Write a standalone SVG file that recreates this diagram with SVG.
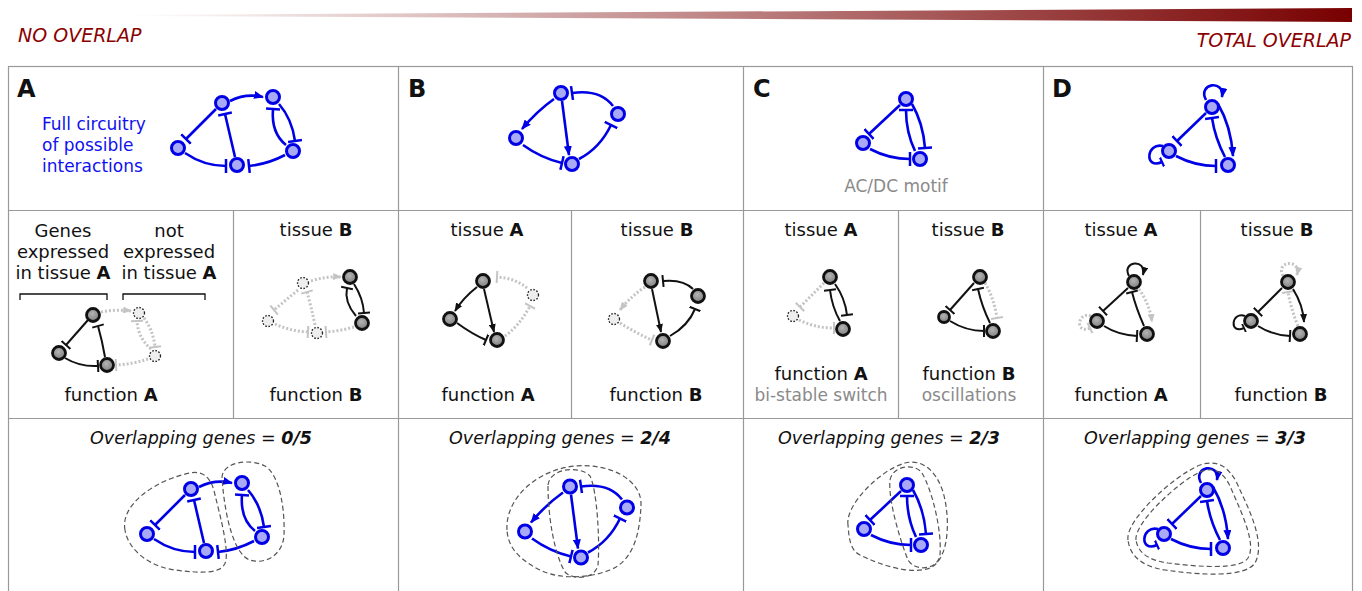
<svg xmlns="http://www.w3.org/2000/svg" width="1362" height="591" viewBox="0 0 1362 591">
<style>
text{font-family:"DejaVu Sans","Liberation Sans",sans-serif;}
.t{font-size:18px;fill:#111;text-anchor:middle;}
.sub{font-size:17px;fill:#8a8a8a;text-anchor:middle;}
.ov{font-size:17.5px;font-style:italic;fill:#111;text-anchor:middle;}
.lbl{font-size:24px;font-weight:bold;fill:#111;}
.grid{stroke:#999;stroke-width:1.2;fill:none;}
.eb{fill:none;stroke:#0000e6;stroke-width:2.6;}
.ek{fill:none;stroke:#111;stroke-width:2;}
.eg{fill:none;stroke:#c4c4c4;stroke-width:3;stroke-dasharray:2,2;}
.nb{fill:#a9aaf6;stroke:#0000e6;stroke-width:3;}
.ng{fill:url(#gg);stroke:#111;stroke-width:2.8;}
.nd{fill:#eeeeee;stroke:#222;stroke-width:1.3;stroke-dasharray:1.6,1.6;}
.blob{fill:none;stroke:#555;stroke-width:1.2;stroke-dasharray:5,3;}
</style>
<defs>
<linearGradient id="hdr" x1="130" y1="0" x2="1352" y2="0" gradientUnits="userSpaceOnUse"><stop offset="0" stop-color="#ffffff"/><stop offset="1" stop-color="#780000"/></linearGradient>
<radialGradient id="gg" cx="0.45" cy="0.4" r="0.6"><stop offset="0" stop-color="#b4b4b4"/><stop offset="1" stop-color="#7e7e7e"/></radialGradient>
<marker id="aB" markerUnits="userSpaceOnUse" viewBox="0 0 10 8" markerWidth="10" markerHeight="8" refX="9" refY="4" orient="auto"><path d="M0,0 L10,4 L0,8 z" fill="#0000e6"/></marker>
<marker id="tB" markerUnits="userSpaceOnUse" viewBox="0 0 4 14" markerWidth="4" markerHeight="14" refX="2" refY="7" orient="auto"><path d="M2,0 V14" stroke="#0000e6" stroke-width="2.5"/></marker>
<marker id="tBs" markerUnits="userSpaceOnUse" viewBox="0 0 4 10" markerWidth="4" markerHeight="10" refX="2" refY="5" orient="auto"><path d="M2,0 V10" stroke="#0000e6" stroke-width="2.2"/></marker>
<marker id="aK" markerUnits="userSpaceOnUse" viewBox="0 0 10 8" markerWidth="9" markerHeight="7" refX="9" refY="4" orient="auto"><path d="M0,0 L10,4 L0,8 z" fill="#111"/></marker>
<marker id="tK" markerUnits="userSpaceOnUse" viewBox="0 0 4 12" markerWidth="4" markerHeight="12" refX="2" refY="6" orient="auto"><path d="M2,0 V12" stroke="#111" stroke-width="2"/></marker>
<marker id="tKs" markerUnits="userSpaceOnUse" viewBox="0 0 4 9" markerWidth="4" markerHeight="9" refX="2" refY="4.5" orient="auto"><path d="M2,0 V9" stroke="#111" stroke-width="1.8"/></marker>
<marker id="aG" markerUnits="userSpaceOnUse" viewBox="0 0 10 8" markerWidth="9" markerHeight="7" refX="9" refY="4" orient="auto"><path d="M0,0 L10,4 L0,8 z" fill="#c4c4c4"/></marker>
<marker id="tG" markerUnits="userSpaceOnUse" viewBox="0 0 4 12" markerWidth="4" markerHeight="12" refX="2" refY="6" orient="auto"><path d="M2,0 V12" stroke="#c4c4c4" stroke-width="2"/></marker>
</defs>

<g id="header">
<polygon points="130,15 1352,8 1352,22 130,16" fill="url(#hdr)"/>
<text x="18" y="42" style="font-size:19px;font-style:italic;fill:#8b0000;">NO OVERLAP</text>
<text x="1351" y="47" style="font-size:19px;font-style:italic;fill:#8b0000;text-anchor:end;">TOTAL OVERLAP</text>
</g>

<g id="table">
<rect class="grid" x="8.5" y="66.5" width="1344" height="540"/>
<line class="grid" x1="8" y1="210.5" x2="1353" y2="210.5"/>
<line class="grid" x1="8" y1="418.5" x2="1353" y2="418.5"/>
<line class="grid" x1="398.5" y1="66" x2="398.5" y2="591"/>
<line class="grid" x1="743.5" y1="66" x2="743.5" y2="591"/>
<line class="grid" x1="1043.5" y1="66" x2="1043.5" y2="591"/>
<line class="grid" x1="233.5" y1="210" x2="233.5" y2="418"/>
<line class="grid" x1="571.5" y1="210" x2="571.5" y2="418"/>
<line class="grid" x1="898.5" y1="210" x2="898.5" y2="418"/>
<line class="grid" x1="1200.5" y1="210" x2="1200.5" y2="418"/>
</g>

<g id="labels">
<text class="lbl" x="17" y="97">A</text>
<text class="lbl" x="408" y="97">B</text>
<text class="lbl" x="753" y="97">C</text>
<text class="lbl" x="1052" y="97">D</text>
<text x="42" y="130" style="font-size:17px;fill:#1010f0;">Full circuitry</text>
<text x="42" y="151" style="font-size:17px;fill:#1010f0;">of possible</text>
<text x="42" y="172" style="font-size:17px;fill:#1010f0;">interactions</text>
<text class="sub" x="896" y="192">AC/DC motif</text>

<text class="t" x="63" y="237">Genes</text>
<text class="t" x="63" y="258">expressed</text>
<text class="t" x="63" y="279">in tissue <tspan font-weight="bold">A</tspan></text>
<text class="t" x="169" y="237">not</text>
<text class="t" x="169" y="258">expressed</text>
<text class="t" x="169" y="279">in tissue <tspan font-weight="bold">A</tspan></text>
<path d="M20,300 V294 H107 V300 M123,300 V294 H205 V300" fill="none" stroke="#111" stroke-width="1.3"/>
<text class="t" x="111" y="401">function <tspan font-weight="bold">A</tspan></text>
<text class="t" x="316" y="236">tissue <tspan font-weight="bold">B</tspan></text>
<text class="t" x="316" y="401">function <tspan font-weight="bold">B</tspan></text>

<text class="t" x="487" y="236">tissue <tspan font-weight="bold">A</tspan></text>
<text class="t" x="488" y="401">function <tspan font-weight="bold">A</tspan></text>
<text class="t" x="657" y="236">tissue <tspan font-weight="bold">B</tspan></text>
<text class="t" x="656" y="401">function <tspan font-weight="bold">B</tspan></text>

<text class="t" x="821" y="236">tissue <tspan font-weight="bold">A</tspan></text>
<text class="t" x="821" y="380">function <tspan font-weight="bold">A</tspan></text>
<text class="sub" x="821" y="401">bi-stable switch</text>
<text class="t" x="968" y="236">tissue <tspan font-weight="bold">B</tspan></text>
<text class="t" x="969" y="380">function <tspan font-weight="bold">B</tspan></text>
<text class="sub" x="969" y="401">oscillations</text>

<text class="t" x="1121" y="236">tissue <tspan font-weight="bold">A</tspan></text>
<text class="t" x="1121" y="401">function <tspan font-weight="bold">A</tspan></text>
<text class="t" x="1277" y="236">tissue <tspan font-weight="bold">B</tspan></text>
<text class="t" x="1281" y="401">function <tspan font-weight="bold">B</tspan></text>

<text class="ov" x="201" y="444">Overlapping genes = <tspan font-weight="bold">0/5</tspan></text>
<text class="ov" x="560" y="444">Overlapping genes = <tspan font-weight="bold">2/4</tspan></text>
<text class="ov" x="889" y="444">Overlapping genes = <tspan font-weight="bold">2/3</tspan></text>
<text class="ov" x="1195" y="444">Overlapping genes = <tspan font-weight="bold">3/3</tspan></text>
</g>

<!-- connectors -->
<g id="connectors">
 <g id="cA">
  <path class="eb" d="M230,101 Q246,93 263,97" marker-end="url(#aB)"/>
  <path class="eb" d="M216,109 L186,139" marker-end="url(#tB)"/>
  <path class="eb" d="M235,157 L225,114" marker-end="url(#tB)"/>
  <path class="eb" d="M185,153 Q204,166 226,166" marker-end="url(#tB)"/>
  <path class="eb" d="M285,155 Q268,164 249,166" marker-end="url(#tB)"/>
  <path class="eb" d="M286,145 Q271,133 273,109" marker-end="url(#tB)"/>
  <path class="eb" d="M279,104 Q292,119 295,141" marker-end="url(#tB)"/>
 </g>
 <g id="cB">
  <path class="eb" d="M554,99 Q537,111 522,129" marker-end="url(#aB)"/>
  <path class="eb" d="M562,101 L569,155" marker-end="url(#aB)"/>
  <path class="eb" d="M523,145 Q541,158 562,163" marker-end="url(#tB)"/>
  <path class="eb" d="M613,106 Q600,89 572,93" marker-end="url(#tB)"/>
  <path class="eb" d="M579,159 Q600,148 611,125" marker-end="url(#tB)"/>
 </g>
 <g id="cC">
  <path class="eb" d="M900,105 L869,134" marker-end="url(#tB)"/>
  <path class="eb" d="M870,149 Q889,159 910,159" marker-end="url(#tB)"/>
  <path class="eb" d="M915,151 Q906,132 906,110" marker-end="url(#tB)"/>
  <path class="eb" d="M912,104 Q923,123 925,148" marker-end="url(#tB)"/>
 </g>
 <g id="cD">
  <path class="eb" d="M1206,100 C1197,83 1225,79 1222,97" marker-end="url(#aB)"/>
  <path class="eb" d="M1163,146 C1146,142 1144,170 1162,162" marker-end="url(#tBs)"/>
  <path class="eb" d="M1206,113 L1177,141" marker-end="url(#tB)"/>
  <path class="eb" d="M1176,156 Q1195,166 1216,166" marker-end="url(#tB)"/>
  <path class="eb" d="M1225,157 Q1215,138 1212,118" marker-end="url(#tB)"/>
  <path class="eb" d="M1218,104 Q1231,126 1233,156" marker-end="url(#aB)"/>
 </g>
 <g id="cA1">
  <path class="eg" d="M101,312 Q116,309 131,311" marker-end="url(#aG)"/>
  <path class="eg" d="M148,359 Q133,364 116,365" marker-end="url(#tG)"/>
  <path class="eg" d="M151,349 Q138,338 137,321" marker-end="url(#tG)"/>
  <path class="eg" d="M144,318 Q153,330 155,347" marker-end="url(#tG)"/>
  <path class="ek" d="M88,320 L66,345" marker-end="url(#tK)"/>
  <path class="ek" d="M105,357 Q102,340 98,326" marker-end="url(#tK)"/>
  <path class="ek" d="M65,358 Q80,367 98,366" marker-end="url(#tK)"/>
 </g>
 <g id="cA2">
  <path class="eg" d="M311,281 Q326,276 341,277" marker-end="url(#aG)"/>
  <path class="eg" d="M298,290 L274,310" marker-end="url(#tG)"/>
  <path class="eg" d="M315,325 Q311,306 307,292" marker-end="url(#tG)"/>
  <path class="eg" d="M275,324 Q290,331 308,332" marker-end="url(#tG)"/>
  <path class="eg" d="M354,327 Q340,331 326,332" marker-end="url(#tG)"/>
  <path class="ek" d="M356,316 Q344,302 347,288" marker-end="url(#tK)"/>
  <path class="ek" d="M354,284 Q363,298 364,313" marker-end="url(#tK)"/>
 </g>
 <g id="cB1">
  <path class="eg" d="M527,288 Q515,278 497,277" marker-end="url(#tG)"/>
  <path class="eg" d="M505,336 Q520,325 530,306" marker-end="url(#tG)"/>
  <path class="ek" d="M477,287 Q463,298 455,311" marker-end="url(#aK)"/>
  <path class="ek" d="M484,289 L494,332" marker-end="url(#aK)"/>
  <path class="ek" d="M457,323 Q472,334 486,340" marker-end="url(#tK)"/>
 </g>
 <g id="cB2">
  <path class="eg" d="M645,287 Q630,297 620,310" marker-end="url(#aG)"/>
  <path class="eg" d="M620,323 Q636,333 652,340" marker-end="url(#tG)"/>
  <path class="ek" d="M652,289 L661,332" marker-end="url(#aK)"/>
  <path class="ek" d="M693,289 Q683,279 663,281" marker-end="url(#tK)"/>
  <path class="ek" d="M670,336 Q688,326 695,309" marker-end="url(#tK)"/>
 </g>
 <g id="cC1">
  <path class="eg" d="M824,283 L800,307" marker-end="url(#tG)"/>
  <path class="eg" d="M799,320 Q815,328 834,328" marker-end="url(#tG)"/>
  <path class="ek" d="M840,321 Q832,307 830,290" marker-end="url(#tK)"/>
  <path class="ek" d="M835,284 Q845,298 847,315" marker-end="url(#tK)"/>
 </g>
 <g id="cC2">
  <path class="eg" d="M985,283 Q994,298 997,318" marker-end="url(#tG)"/>
  <path class="ek" d="M974,283 L950,310" marker-end="url(#tK)"/>
  <path class="ek" d="M950,321 Q966,331 984,331" marker-end="url(#tK)"/>
  <path class="ek" d="M990,323 Q982,307 978,289" marker-end="url(#tK)"/>
 </g>
 <g id="cD1">
  <path class="eg" d="M1091,316 C1077,311 1075,335 1090,328" marker-end="url(#tG)"/>
  <path class="eg" d="M1139,289 Q1150,305 1152,322" marker-end="url(#aG)"/>
  <path class="ek" d="M1129,276 C1121,261 1147,258 1143,275" marker-end="url(#aK)"/>
  <path class="ek" d="M1128,288 L1103,311" marker-end="url(#tK)"/>
  <path class="ek" d="M1104,326 Q1118,335 1137,336" marker-end="url(#tK)"/>
  <path class="ek" d="M1144,326 Q1136,308 1132,292" marker-end="url(#tK)"/>
 </g>
 <g id="cD2">
  <path class="eg" d="M1283,276 C1275,261 1301,258 1297,275" marker-end="url(#aG)"/>
  <path class="eg" d="M1298,326 Q1291,309 1288,292" marker-end="url(#tG)"/>
  <path class="ek" d="M1245,316 C1231,311 1229,335 1244,328" marker-end="url(#tKs)"/>
  <path class="ek" d="M1282,288 L1258,312" marker-end="url(#tK)"/>
  <path class="ek" d="M1258,326 Q1272,335 1290,336" marker-end="url(#tK)"/>
  <path class="ek" d="M1293,289 Q1303,305 1304,322" marker-end="url(#aK)"/>
 </g>
 <g id="cA3" transform="translate(-31,386)">
  <path class="eb" d="M230,101 Q246,93 263,97" marker-end="url(#aB)"/>
  <path class="eb" d="M216,109 L186,139" marker-end="url(#tB)"/>
  <path class="eb" d="M235,157 L225,114" marker-end="url(#tB)"/>
  <path class="eb" d="M185,153 Q204,166 226,166" marker-end="url(#tB)"/>
  <path class="eb" d="M285,155 Q268,164 249,166" marker-end="url(#tB)"/>
  <path class="eb" d="M286,145 Q271,133 273,109" marker-end="url(#tB)"/>
  <path class="eb" d="M279,104 Q292,119 295,141" marker-end="url(#tB)"/>
 </g>
 <g id="cB3" transform="translate(9,393.5)">
  <path class="eb" d="M554,99 Q537,111 522,129" marker-end="url(#aB)"/>
  <path class="eb" d="M562,101 L569,155" marker-end="url(#aB)"/>
  <path class="eb" d="M523,145 Q541,158 562,163" marker-end="url(#tB)"/>
  <path class="eb" d="M613,106 Q600,89 572,93" marker-end="url(#tB)"/>
  <path class="eb" d="M579,159 Q600,148 611,125" marker-end="url(#tB)"/>
 </g>
 <g id="cC3" transform="translate(1,386)">
  <path class="eb" d="M900,105 L869,134" marker-end="url(#tB)"/>
  <path class="eb" d="M870,149 Q889,159 910,159" marker-end="url(#tB)"/>
  <path class="eb" d="M915,151 Q906,132 906,110" marker-end="url(#tB)"/>
  <path class="eb" d="M912,104 Q923,123 925,148" marker-end="url(#tB)"/>
 </g>
 <g id="cD3" transform="translate(-5,383)">
  <path class="eb" d="M1206,100 C1197,83 1225,79 1222,97" marker-end="url(#aB)"/>
  <path class="eb" d="M1163,146 C1146,142 1144,170 1162,162" marker-end="url(#tBs)"/>
  <path class="eb" d="M1206,113 L1177,141" marker-end="url(#tB)"/>
  <path class="eb" d="M1176,156 Q1195,166 1216,166" marker-end="url(#tB)"/>
  <path class="eb" d="M1225,157 Q1215,138 1212,118" marker-end="url(#tB)"/>
  <path class="eb" d="M1218,104 Q1231,126 1233,156" marker-end="url(#aB)"/>
 </g>
</g>

<g id="groupings">
 <path class="blob" d="M125,530 C120,505 155,480 190,473 C205,470 212,480 215,495 C220,515 228,545 226,560 C224,575 200,573 175,570 C150,567 128,550 125,530 Z"/>
 <path class="blob" d="M222,478 C222,462 250,458 265,466 C280,475 285,510 284,535 C283,555 265,565 250,560 C235,555 225,520 222,478 Z"/>
 <path class="blob" d="M507,530 C505,500 535,470 575,466 C610,463 642,480 641,505 C640,530 635,560 610,570 C590,578 560,580 540,570 C520,560 508,548 507,530 Z"/>
 <path class="blob" d="M548,485 C550,468 580,465 590,476 C597,490 600,540 598,565 C595,580 572,580 565,572 C555,555 548,520 548,485 Z"/>
 <path class="blob" d="M848,525 C845,505 880,470 905,463 C925,458 940,475 945,500 C950,525 948,560 930,568 C910,575 880,565 860,555 C850,550 849,538 848,525 Z"/>
 <path class="blob" d="M890,480 C893,465 915,463 922,473 C932,490 942,530 940,555 C938,570 915,572 908,560 C900,540 888,500 890,480 Z"/>
 <path class="blob" d="M1128,540 C1125,520 1175,475 1200,465 C1220,458 1232,470 1240,490 C1252,515 1265,545 1255,563 C1245,578 1200,575 1165,570 C1140,566 1130,555 1128,540 Z"/>
 <path class="blob" d="M1136,540 C1134,523 1178,482 1200,472 C1217,465 1226,475 1233,493 C1244,518 1256,545 1248,558 C1240,570 1200,567 1168,563 C1147,560 1138,552 1136,540 Z"/>
</g>

<g id="nA1"><circle class="nb" cx="178" cy="148" r="6.5"/></g>
<g id="nA2"><circle class="nb" cx="222" cy="103" r="6.5"/></g>
<g id="nA3"><circle class="nb" cx="273" cy="97" r="6.5"/></g>
<g id="nA4"><circle class="nb" cx="237" cy="165" r="6.5"/></g>
<g id="nA5"><circle class="nb" cx="293" cy="151" r="6.5"/></g>
<g id="nB1"><circle class="nb" cx="561" cy="93" r="6.5"/></g>
<g id="nB2"><circle class="nb" cx="618" cy="114" r="6.5"/></g>
<g id="nB3"><circle class="nb" cx="516" cy="138" r="6.5"/></g>
<g id="nB4"><circle class="nb" cx="572" cy="164" r="6.5"/></g>
<g id="nC1"><circle class="nb" cx="906" cy="99" r="6.5"/></g>
<g id="nC2"><circle class="nb" cx="863" cy="143" r="6.5"/></g>
<g id="nC3"><circle class="nb" cx="920" cy="159" r="6.5"/></g>
<g id="nD1"><circle class="nb" cx="1212" cy="107" r="6.5"/></g>
<g id="nD2"><circle class="nb" cx="1169" cy="151" r="6.5"/></g>
<g id="nD3"><circle class="nb" cx="1228" cy="165" r="6.5"/></g>

<g id="nA1a"><circle class="ng" cx="93" cy="315" r="6.5"/></g>
<g id="nA1b"><circle class="nd" cx="139" cy="313" r="5.5"/></g>
<g id="nA1c"><circle class="ng" cx="59" cy="353" r="6.5"/></g>
<g id="nA1d"><circle class="ng" cx="107" cy="365" r="6.5"/></g>
<g id="nA1e"><circle class="nd" cx="155" cy="356" r="5.5"/></g>
<g id="nA2a"><circle class="nd" cx="303" cy="283" r="5.5"/></g>
<g id="nA2b"><circle class="ng" cx="350" cy="277" r="6.5"/></g>
<g id="nA2c"><circle class="nd" cx="268" cy="321" r="5.5"/></g>
<g id="nA2d"><circle class="nd" cx="317" cy="333" r="5.5"/></g>
<g id="nA2e"><circle class="ng" cx="362" cy="323" r="6.5"/></g>
<g id="nB1a"><circle class="ng" cx="483" cy="281" r="6.5"/></g>
<g id="nB1b"><circle class="nd" cx="533" cy="295" r="5.5"/></g>
<g id="nB1c"><circle class="ng" cx="450" cy="319" r="6.5"/></g>
<g id="nB1d"><circle class="ng" cx="497" cy="340" r="6.5"/></g>
<g id="nB2a"><circle class="ng" cx="651" cy="281" r="6.5"/></g>
<g id="nB2b"><circle class="ng" cx="698" cy="296" r="6.5"/></g>
<g id="nB2c"><circle class="nd" cx="614" cy="319" r="5.5"/></g>
<g id="nB2d"><circle class="ng" cx="663" cy="341" r="6.5"/></g>
<g id="nC1a"><circle class="ng" cx="830" cy="277" r="6.5"/></g>
<g id="nC1b"><circle class="nd" cx="793" cy="316" r="5.5"/></g>
<g id="nC1c"><circle class="ng" cx="843" cy="329" r="6.5"/></g>
<g id="nC2a"><circle class="ng" cx="980" cy="277" r="6.5"/></g>
<g id="nC2b"><circle class="ng" cx="944" cy="317" r="5.5"/></g>
<g id="nC2c"><circle class="ng" cx="993" cy="331" r="6.5"/></g>
<g id="nD1a"><circle class="ng" cx="1134" cy="282" r="6.5"/></g>
<g id="nD1b"><circle class="ng" cx="1097" cy="321" r="6.5"/></g>
<g id="nD1c"><circle class="ng" cx="1147" cy="334" r="6.5"/></g>
<g id="nD2a"><circle class="ng" cx="1288" cy="282" r="6.5"/></g>
<g id="nD2b"><circle class="ng" cx="1251" cy="321" r="6.5"/></g>
<g id="nD2c"><circle class="ng" cx="1300" cy="334" r="6.5"/></g>

<g id="nA3a"><circle class="nb" cx="147" cy="534" r="6.5"/></g>
<g id="nA3b"><circle class="nb" cx="191" cy="489" r="6.5"/></g>
<g id="nA3c"><circle class="nb" cx="242" cy="483" r="6.5"/></g>
<g id="nA3d"><circle class="nb" cx="206" cy="551" r="6.5"/></g>
<g id="nA3e"><circle class="nb" cx="262" cy="537" r="6.5"/></g>
<g id="nB3a"><circle class="nb" cx="570" cy="486.5" r="6.5"/></g>
<g id="nB3b"><circle class="nb" cx="627" cy="507.5" r="6.5"/></g>
<g id="nB3c"><circle class="nb" cx="525" cy="531.5" r="6.5"/></g>
<g id="nB3d"><circle class="nb" cx="581" cy="557.5" r="6.5"/></g>
<g id="nC3a"><circle class="nb" cx="907" cy="485" r="6.5"/></g>
<g id="nC3b"><circle class="nb" cx="864" cy="529" r="6.5"/></g>
<g id="nC3c"><circle class="nb" cx="921" cy="545" r="6.5"/></g>
<g id="nD3a"><circle class="nb" cx="1207" cy="490" r="6.5"/></g>
<g id="nD3b"><circle class="nb" cx="1164" cy="534" r="6.5"/></g>
<g id="nD3c"><circle class="nb" cx="1223" cy="548" r="6.5"/></g>
</svg>
